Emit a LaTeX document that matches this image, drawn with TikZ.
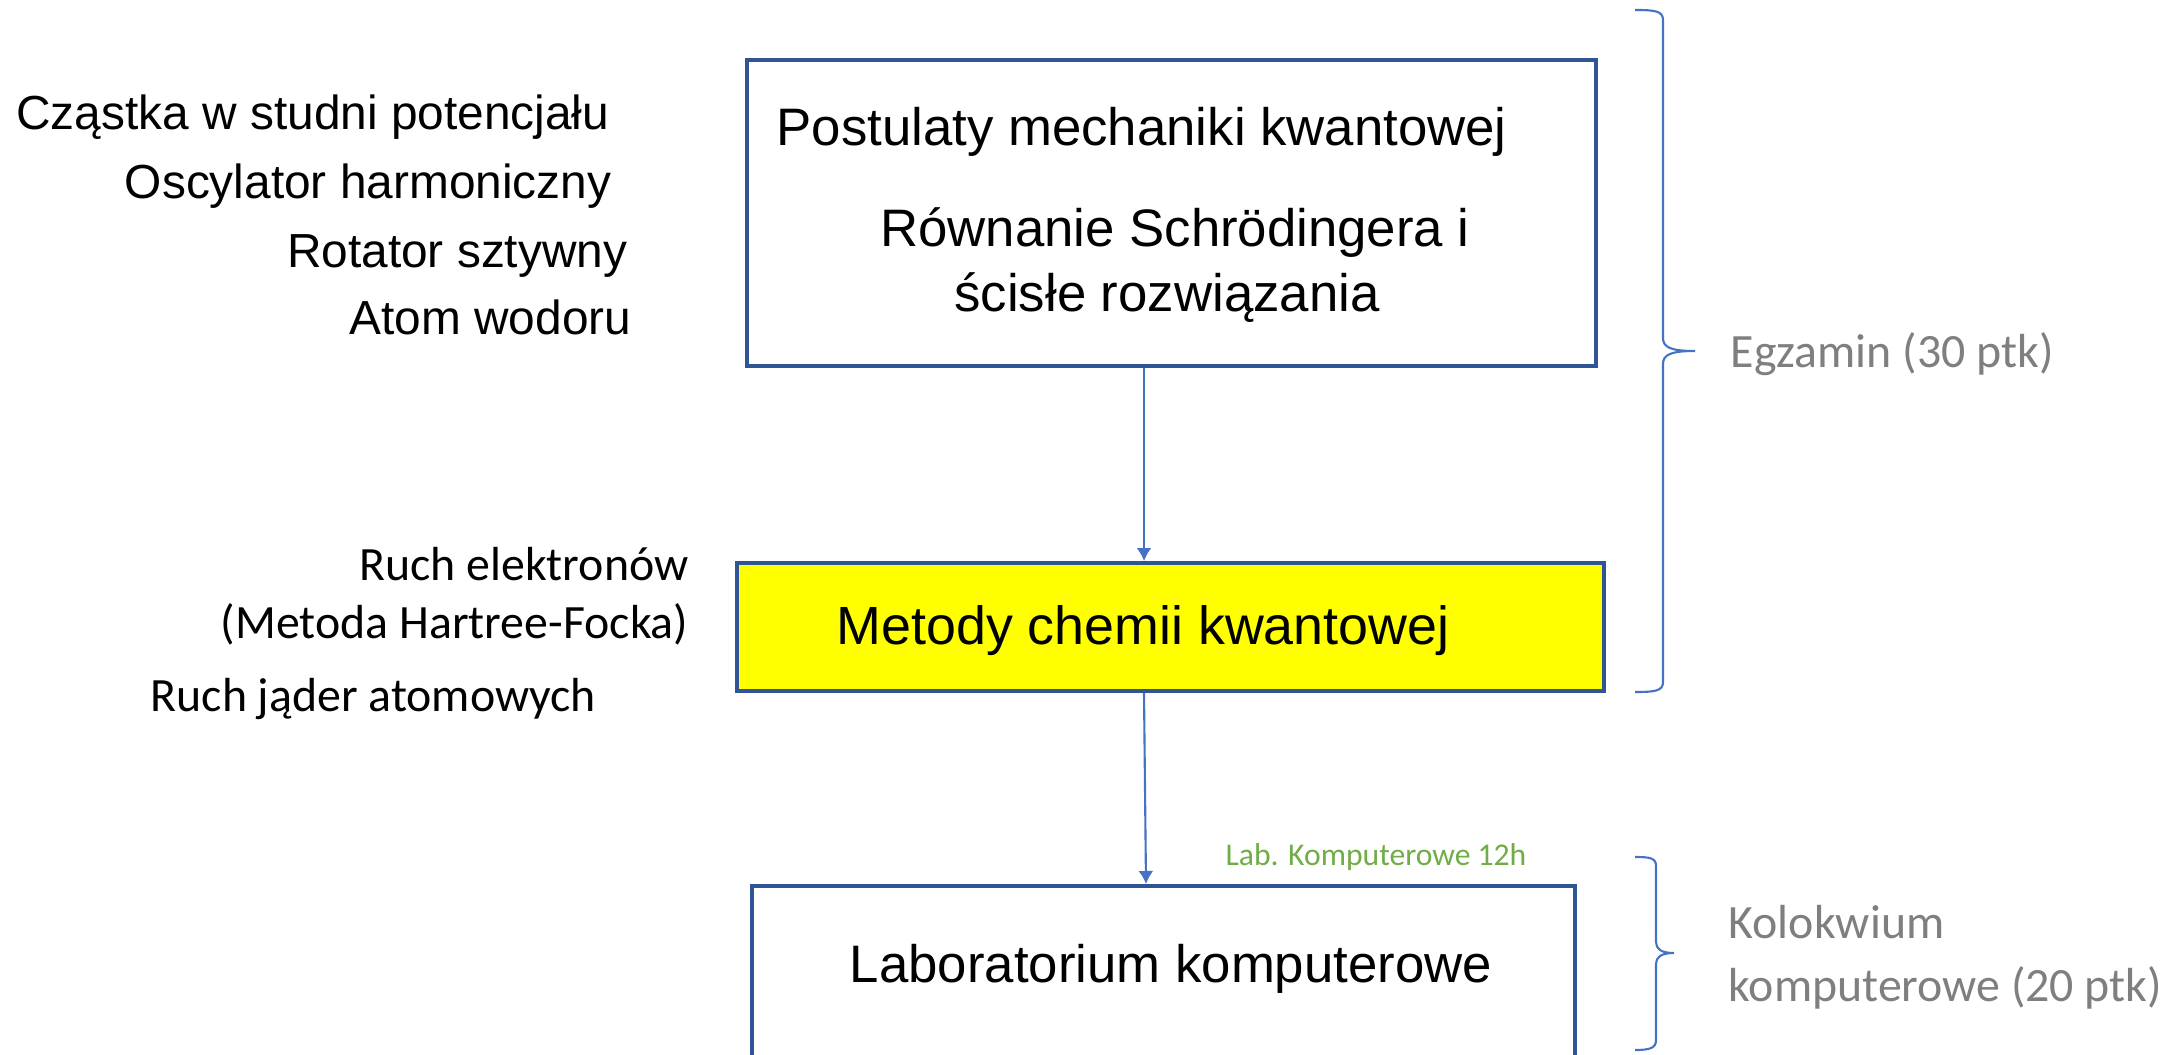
\documentclass[tikz,border=0pt]{standalone}
\usepackage{fontspec}
\setmainfont{Liberation Sans}
\newfontfamily\calib{Carlito}
\usetikzlibrary{arrows.meta}
\definecolor{boxblue}{HTML}{2F5597}
\definecolor{linkblue}{HTML}{4472C4}
\definecolor{greytext}{HTML}{7F7F7F}
\definecolor{labgreen}{HTML}{70AD47}
\definecolor{boxyellow}{HTML}{FFFF00}
\begin{document}
\begin{tikzpicture}[x=0.01cm,y=-0.01cm,
  box/.style={draw=boxblue,line width=1.1pt,inner sep=0pt},
  big/.style={font=\fontsize{15}{18}\selectfont,inner sep=0pt,text height=11pt,text depth=3.2pt},
  mid/.style={font=\fontsize{13.6}{16}\selectfont,inner sep=0pt,text height=9.9pt,text depth=2.9pt},
  cal/.style={font=\calib\fontsize{13.6}{16}\selectfont,inner sep=0pt,text height=9.9pt,text depth=2.9pt},
  arr/.style={draw=linkblue,line width=0.6pt,-{Latex[length=0.13cm,width=0.15cm]}},
  brc/.style={draw=linkblue,line width=0.6pt}]
\clip (0,0) rectangle (2176,1055);
\fill[white] (0,0) rectangle (2176,1055);
% boxes
\node[box, minimum width=8.49cm, minimum height=3.06cm] (box1) at (1171.5,213) {};
\node[box, fill=boxyellow, minimum width=8.67cm, minimum height=1.28cm] (box2) at (1170.5,627) {};
\node[box, minimum width=8.23cm, minimum height=2.3cm] (box3) at (1163.5,1001) {};
% box texts
\node[big, anchor=west] (t1) at (776,132) {Postulaty mechaniki kwantowej};
\node[big] (t2) at (1175,233) {Równanie Schrödingera i};
\node[big] (t3) at (1167,298) {ścisłe rozwiązania};
\node[big, font=\fontsize{15.3}{18}\selectfont] (t4) at (1143,631) {Metody chemii kwantowej};
\node[big] (t5) at (1171,969) {Laboratorium komputerowe};
% left texts
\node[mid, anchor=east] (l1) at (610,117) {Cząstka w studni potencjału};
\node[mid, anchor=east] (l2) at (612,186) {Oscylator harmoniczny};
\node[mid, anchor=east] (l3) at (628,255) {Rotator sztywny};
\node[mid, anchor=east] (l4) at (632,322) {Atom wodoru};
\node[cal, anchor=east] (c1) at (689,568) {Ruch elektronów};
\node[cal, anchor=east] (c2) at (689,626) {(Metoda Hartree-Focka)};
\node[cal, anchor=west] (c3) at (150,699) {Ruch jąder atomowych};
% right texts
\node[cal, text=greytext, anchor=west] (g1) at (1730,355) {Egzamin (30 ptk)};
\node[cal, text=greytext, anchor=west] (g2) at (1728,926) {Kolokwium};
\node[cal, text=greytext, anchor=west] (g3) at (1728,989) {komputerowe (20 ptk)};
\node[font=\calib\fontsize{9}{11}\selectfont, text=labgreen, inner sep=0pt] (lab) at (1376,857) {Lab. Komputerowe 12h};
% arrows
\coordinate (a1) at (1144,0);
\coordinate (a2s) at (1144,0);
\coordinate (a2e) at (1146,0);
\draw[arr] (box1.south -| a1) -- (box2.north -| a1);
\draw[arr] (box2.south -| a2s) -- (box3.north -| a2e);
% braces
\draw[brc] (1635,10) .. controls (1655,10) and (1663,11) .. (1663,20) -- (1663,338)
  .. controls (1663,347) and (1670,351) .. (1695,351)
  .. controls (1670,351) and (1663,355) .. (1663,364) -- (1663,682)
  .. controls (1663,691) and (1655,692) .. (1635,692);
\draw[brc] (1635,857) .. controls (1650,857) and (1656,858) .. (1656,866) -- (1656,942)
  .. controls (1656,949) and (1661,953) .. (1674,953)
  .. controls (1661,953) and (1656,957) .. (1656,964) -- (1656,1040)
  .. controls (1656,1048) and (1650,1050) .. (1635,1050);
\end{tikzpicture}
\end{document}
